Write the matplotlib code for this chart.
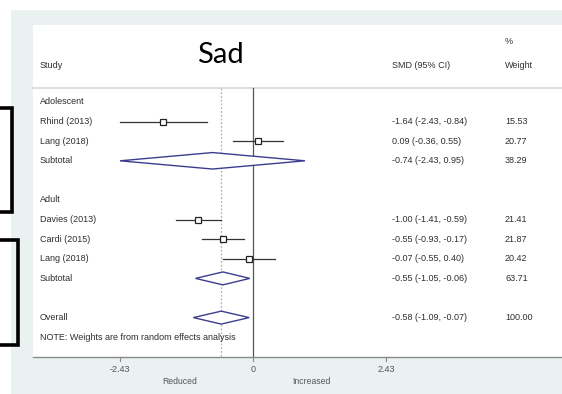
import matplotlib
matplotlib.use("Agg")
import matplotlib.pyplot as plt
from matplotlib.patches import Rectangle, Polygon

plt.rcParams['font.family'] = ['Liberation Sans', 'DejaVu Sans']

# rows: label, estimate, lower, upper, weight, kind
labels = ["Adolescent", "Rhind (2013)", "Lang (2018)", "Subtotal", "",
          "Adult", "Davies (2013)", "Cardi (2015)", "Lang (2018)", "Subtotal", "",
          "Overall"]
kinds = ["head", "study", "study", "sub", "", "head", "study", "study", "study", "sub", "", "sub"]
est = [None, -1.64, 0.09, -0.74, None, None, -1.00, -0.55, -0.07, -0.55, None, -0.58]
lo = [None, -2.43, -0.36, -2.43, None, None, -1.41, -0.93, -0.55, -1.05, None, -1.09]
hi = [None, -0.84, 0.55, 0.95, None, None, -0.59, -0.17, 0.40, -0.06, None, -0.07]
ci_text = ["", "-1.64 (-2.43, -0.84)", "0.09 (-0.36, 0.55)", "-0.74 (-2.43, 0.95)", "",
           "", "-1.00 (-1.41, -0.59)", "-0.55 (-0.93, -0.17)", "-0.07 (-0.55, 0.40)",
           "-0.55 (-1.05, -0.06)", "", "-0.58 (-1.09, -0.07)"]
weights = ["", "15.53", "20.77", "38.29", "", "", "21.41", "21.87", "20.42", "63.71", "", "100.00"]
xticks = [-2.43, 0, 2.43]
xticklabels = ["-2.43", "0", "2.43"]
overall = -0.58

W, H = 562, 394
fig = plt.figure(figsize=(W / 100, H / 100), dpi=100)
ax = fig.add_axes([0, 0, 1, 1])

# pixel mapping: x=0 at 253px, 54.73 px per unit; row 0 at 102px, 19.6 px per row
ppu, x0 = 54.73, 253
rpx, r0 = 19.6, 102
ax.set_xlim(-x0 / ppu, (W - x0) / ppu)
ax.set_ylim((H - r0) / rpx, -r0 / rpx)
ax.axis('off')

def X(px):
    return (px - x0) / ppu

def Y(py):
    return (py - r0) / rpx

txt = ax.get_yaxis_transform()
col = '#2e2e2e'

# backgrounds
ax.add_patch(Rectangle((X(11), Y(10)), X(W) - X(11), Y(H) - Y(10), facecolor='#e9f1f1', edgecolor='none', zorder=0))
ax.add_patch(Rectangle((X(33), Y(25)), X(W) - X(33), Y(357) - Y(25), facecolor='white', edgecolor='none', zorder=0.5))

# header
ax.plot([X(33), X(W)], [Y(88), Y(88)], color='#d8d8d8', lw=1.2, zorder=1)
ax.text(40 / W, Y(66), "Study", transform=txt, fontsize=6.5, color=col, va='center')
ax.text(392 / W, Y(66), "SMD (95% CI)", transform=txt, fontsize=6.5, color=col, va='center')
ax.text(505 / W, Y(42), "%", transform=txt, fontsize=6.5, color=col, va='center')
ax.text(505 / W, Y(66), "Weight", transform=txt, fontsize=6.5, color=col, va='center')
ax.text(220 / W, Y(55), "Sad", transform=txt, fontsize=21, color='black', va='center', ha='center',
        family=['Lato', 'DejaVu Sans'])

# reference lines
ax.plot([0, 0], [Y(88), Y(357)], color='#555555', lw=0.9, zorder=2)
ax.plot([overall, overall], [Y(88), Y(357)], color='#b0b0b0', lw=0.9, ls=(0, (1.5, 1.5)), zorder=2)

for i, lab in enumerate(labels):
    if lab:
        ax.text(40 / W, i, lab, transform=txt, fontsize=6.5, color=col, va='center')
    if ci_text[i]:
        ax.text(392 / W, i, ci_text[i], transform=txt, fontsize=6.5, color=col, va='center')
        ax.text(505 / W, i, weights[i], transform=txt, fontsize=6.5, color=col, va='center')
    if kinds[i] == "study":
        ax.plot([lo[i], hi[i]], [i, i], color='#333333', lw=0.9, zorder=3)
        ax.plot(est[i], i, marker='s', ms=3.8 + 0.05 * float(weights[i]), mfc='white',
                mec='#222222', mew=0.9, zorder=4)
    elif kinds[i] == "sub":
        hh = 0.42 if lo[i] < -2 else 0.33
        ax.add_patch(Polygon([[lo[i], i], [est[i], i - hh], [hi[i], i], [est[i], i + hh]],
                             closed=True, facecolor='white', edgecolor='#3d3d8f', lw=1.0, zorder=4))

ax.text(40 / W, 12, "NOTE: Weights are from random effects analysis", transform=txt,
        fontsize=6.5, color=col, va='center')

# x axis
ax.plot([X(33), X(W)], [Y(357), Y(357)], color='#8a8a8a', lw=1.0, zorder=2)
for t, tl in zip(xticks, xticklabels):
    ax.plot([t, t], [Y(357), Y(361)], color='#8a8a8a', lw=0.8, zorder=2)
    ax.text(t, Y(369), tl, fontsize=6.5, color='#555555', ha='center', va='center')
ax.text(X(180), Y(381), "Reduced", fontsize=6.2, color='#555555', ha='center', va='center')
ax.text(X(311), Y(381), "Increased", fontsize=6.2, color='#555555', ha='center', va='center')

# black brackets drawn over the screenshot
ax.plot([X(-5), X(12), X(12), X(-5)], [Y(108), Y(108), Y(212), Y(212)], color='black', lw=2.6,
        solid_joinstyle='miter', zorder=6, clip_on=False)
ax.plot([X(-5), X(18), X(18), X(-5)], [Y(240), Y(240), Y(345), Y(345)], color='black', lw=2.6,
        solid_joinstyle='miter', zorder=6, clip_on=False)

fig.savefig("out.png", dpi=100)
